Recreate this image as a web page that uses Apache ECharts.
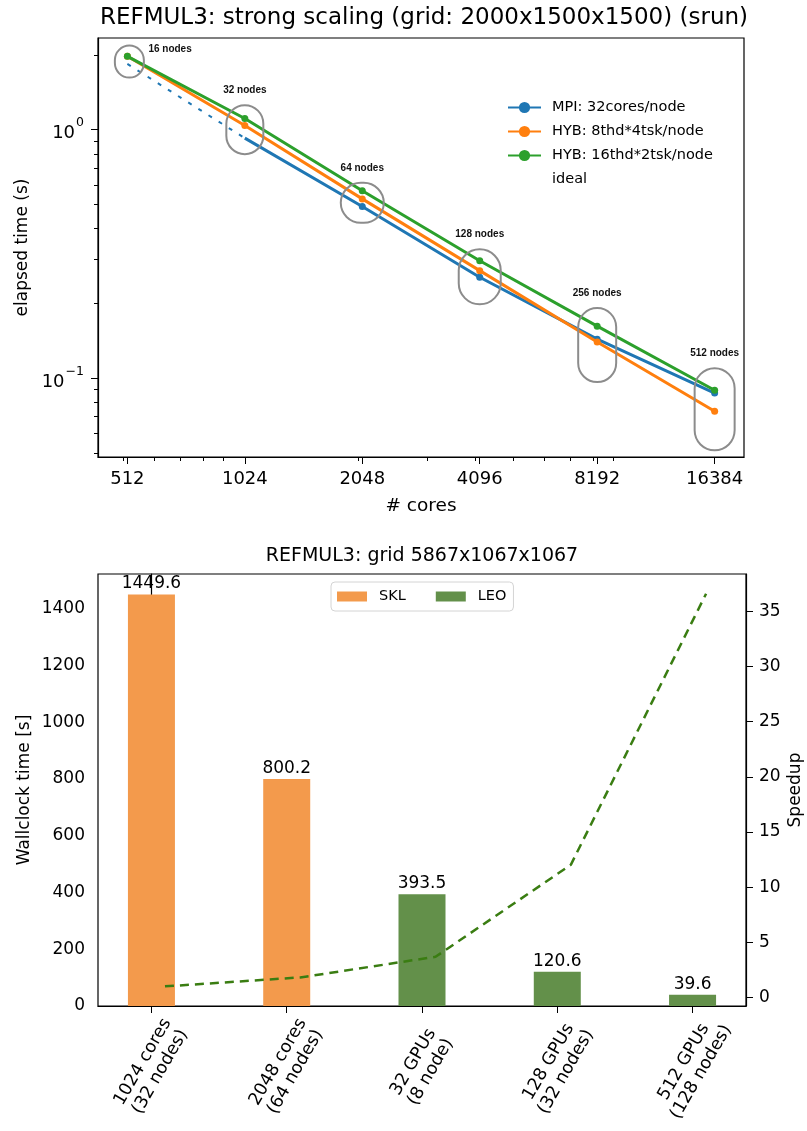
<!DOCTYPE html>
<html>
<head>
<meta charset="utf-8">
<script src="https://cdn.jsdelivr.net/npm/echarts@6/dist/echarts.min.js"></script>
<style>
  html, body { margin: 0; padding: 0; background: #fff; }
  #container { width: 807px; height: 1131px; }
</style>
</head>
<body>
<div id="container"></div>
<script>
// ---- strong scaling (top) ----
var cores = [512, 1024, 2048, 4096, 8192, 16384];
var mpiTime = [null, 0.925, 0.491, 0.255, 0.1436, 0.0872];
var hyb8Time = [1.975, 1.04, 0.527, 0.271, 0.140, 0.0736];
var hyb16Time = [1.975, 1.11, 0.568, 0.297, 0.162, 0.0895];
var idealTime = [1.84, 0.925, null, null, null, null];
var nodeLabels = ["16 nodes", "32 nodes", "64 nodes", "128 nodes", "256 nodes", "512 nodes"];
var ringCenter = [1.88, 1.0, 0.508, 0.256, 0.136, 0.075];
var xMinorTicks = [500, 600, 700, 800, 900, 2000, 3000, 4000, 5000, 6000, 7000, 8000, 9000];
var yMajorTicks = [0.1, 1];
var yTickExp = ["\u22121", "0"];
var yMinorTicks = [0.05, 0.06, 0.07, 0.08, 0.09, 0.2, 0.3, 0.4, 0.5, 0.6, 0.7, 0.8, 0.9, 2];

// ---- grid 5867x1067x1067 (bottom) ----
var configs = ["1024 cores\n(32 nodes)", "2048 cores\n(64 nodes)", "32 GPUs\n(8 node)", "128 GPUs\n(32 nodes)", "512 GPUs\n(128 nodes)"];
var sklTime = [1449.6, 800.2, null, null, null];
var leoTime = [null, null, 393.5, 120.6, 39.6];
var speedup = [1.0, 1.81, 3.68, 12.02, 36.6];
var wallTicks = [0, 200, 400, 600, 800, 1000, 1200, 1400];
var speedTicks = [0, 5, 10, 15, 20, 25, 30, 35];

// ring sizes in px (style only)
var ringSize = [[29, 32], [37, 49], [43, 40], [42, 55], [38, 74], [40, 82]];

var FONT = "DejaVu Sans";
var chart = echarts.init(document.getElementById("container"));

function pairs(xs, ys) {
  var out = [];
  ys.forEach(function(v, i) { out.push([xs[i], v == null ? null : v]); });
  return out;
}
function barData(ys) {
  var out = [];
  ys.forEach(function(v, i) { if (v != null) out.push([i, v]); });
  return out;
}

var mpiData = pairs(cores, mpiTime).map(function(d, i) {
  return i === 1 ? { value: d, symbolSize: 0 } : d;
});

var option = {
  animation: false,
  backgroundColor: "#fff",
  textStyle: { fontFamily: FONT },
  graphic: [
    { type: "text", x: 424, y: 18, style: { text: "REFMUL3: strong scaling (grid: 2000x1500x1500) (srun)", font: "23px " + FONT, fill: "#000", align: "center", verticalAlign: "middle", textAlign: "center", textVerticalAlign: "middle" } },
    { type: "text", x: 422, y: 556, style: { text: "REFMUL3: grid 5867x1067x1067", font: "19px " + FONT, fill: "#000", align: "center", verticalAlign: "middle", textAlign: "center", textVerticalAlign: "middle" } }
  ],
  legend: [
    {
      orient: "vertical", left: 507, top: 100, padding: 0,
      itemWidth: 33, itemHeight: 14, itemGap: 9,
      textStyle: { fontFamily: FONT, fontSize: 14.5, color: "#000", padding: [0, 0, 0, 6] },
      data: ["MPI: 32cores/node", "HYB: 8thd*4tsk/node", "HYB: 16thd*2tsk/node", { name: "ideal", icon: "none" }]
    },
    {
      orient: "horizontal", left: 331, top: 582, padding: [7, 7, 7, 6],
      borderColor: "#d4d4d4", borderWidth: 1, borderRadius: 4,
      itemWidth: 30, itemHeight: 10, itemGap: 30, icon: "rect",
      textStyle: { fontFamily: FONT, fontSize: 14.5, color: "#000", padding: [0, 0, 0, 7] },
      data: ["SKL", "LEO"]
    }
  ],
  grid: [
    { left: 98, top: 38, right: 63, bottom: 674, outerBoundsMode: "none", containLabel: false, show: true, borderColor: "#000", borderWidth: 1.2, backgroundColor: "transparent" },
    { left: 98, top: 574, right: 61, bottom: 125, outerBoundsMode: "none", containLabel: false, show: true, borderColor: "#000", borderWidth: 1.2, backgroundColor: "transparent" }
  ],
  xAxis: [
    {
      gridIndex: 0, type: "log", logBase: 2, min: 430.5, max: 19484, position: "bottom",
      name: "# cores", nameLocation: "middle", nameGap: 40, nameMoveOverlap: false,
      nameTextStyle: { fontFamily: FONT, fontSize: 18.5, color: "#000" },
      axisLine: { lineStyle: { color: "#000", width: 1.2 } },
      axisTick: { length: 7, lineStyle: { color: "#000" }, customValues: cores },
      axisLabel: { fontFamily: FONT, fontSize: 18, color: "#000", margin: 13, customValues: cores, formatter: function(v) { return String(Math.round(v)); } },
      splitLine: { show: false }, minorTick: { show: false }
    },
    {
      gridIndex: 0, type: "log", logBase: 2, min: 430.5, max: 19484, position: "bottom",
      axisLine: { show: false },
      axisTick: { show: true, length: 4, lineStyle: { color: "#000" }, customValues: xMinorTicks },
      axisLabel: { show: false },
      splitLine: { show: false }
    },
    {
      gridIndex: 1, type: "value", min: -0.395, max: 4.395,
      axisLine: { lineStyle: { color: "#000", width: 1.2 } },
      axisTick: { length: 7, lineStyle: { color: "#000" }, customValues: [0, 1, 2, 3, 4] },
      axisLabel: {
        fontFamily: FONT, fontSize: 17.5, color: "#000", rotate: 60, margin: 61,
        align: "center", verticalAlign: "middle", lineHeight: 20,
        customValues: [0, 1, 2, 3, 4],
        formatter: function(v) { return configs[Math.round(v)]; }
      },
      splitLine: { show: false }
    }
  ],
  yAxis: [
    {
      gridIndex: 0, type: "log", logBase: 10, min: 0.0482, max: 2.34, position: "left",
      name: "elapsed time (s)", nameLocation: "middle", nameGap: 67, nameMoveOverlap: false,
      nameTextStyle: { fontFamily: FONT, fontSize: 17, color: "#000" },
      axisLine: { lineStyle: { color: "#000", width: 1.2 } },
      axisTick: { length: 7, lineStyle: { color: "#000" }, customValues: yMajorTicks },
      axisLabel: {
        fontFamily: FONT, fontSize: 18, color: "#000", margin: 14, customValues: yMajorTicks,
        formatter: function(v) { return "{b|10}{s|" + (v > 0.5 ? yTickExp[1] : yTickExp[0]) + "}"; },
        rich: {
          b: { fontFamily: FONT, fontSize: 18, color: "#000", lineHeight: 26, verticalAlign: "bottom" },
          s: { fontFamily: FONT, fontSize: 12.5, color: "#000", lineHeight: 26, verticalAlign: "top", padding: [0, 0, 0, 1] }
        }
      },
      splitLine: { show: false }
    },
    {
      gridIndex: 0, type: "log", logBase: 10, min: 0.0482, max: 2.34, position: "left",
      axisLine: { show: false },
      axisTick: { show: true, length: 4, lineStyle: { color: "#000" }, customValues: yMinorTicks },
      axisLabel: { show: false },
      splitLine: { show: false }
    },
    {
      gridIndex: 1, type: "value", min: 0, max: 1522.1, position: "left",
      name: "Wallclock time [s]", nameLocation: "middle", nameGap: 65, nameMoveOverlap: false,
      nameTextStyle: { fontFamily: FONT, fontSize: 17, color: "#000" },
      axisLine: { show: true, lineStyle: { color: "#000", width: 1.2 } },
      axisTick: { show: true, length: 7, lineStyle: { color: "#000" }, customValues: wallTicks },
      axisLabel: { fontFamily: FONT, fontSize: 17, color: "#000", margin: 13, customValues: wallTicks,
        formatter: function(v) { return String(v); } },
      splitLine: { show: false }
    },
    {
      gridIndex: 1, type: "value", position: "right", min: -0.78, max: 38.39,
      name: "Speedup", nameLocation: "middle", nameGap: 41, nameRotate: 90, nameMoveOverlap: false,
      nameTextStyle: { fontFamily: FONT, fontSize: 17, color: "#000" },
      axisLine: { show: true, lineStyle: { color: "#000", width: 1.2 } },
      axisTick: { show: true, length: 7, lineStyle: { color: "#000" }, customValues: speedTicks },
      axisLabel: { fontFamily: FONT, fontSize: 17, color: "#000", margin: 13, customValues: speedTicks,
        formatter: function(v) { return String(v); } },
      splitLine: { show: false }
    }
  ],
  series: [
    {
      name: "ideal", type: "line", xAxisIndex: 0, yAxisIndex: 0,
      data: pairs(cores, idealTime), showSymbol: false, symbol: "none",
      lineStyle: { color: "#1f77b4", width: 2, type: [4, 8] }, itemStyle: { color: "#1f77b4" }, z: 2
    },
    {
      name: "MPI: 32cores/node", type: "line", xAxisIndex: 0, yAxisIndex: 0,
      data: mpiData, symbol: "circle", symbolSize: 7,
      lineStyle: { color: "#1f77b4", width: 3 }, itemStyle: { color: "#1f77b4" }, z: 3
    },
    {
      name: "HYB: 8thd*4tsk/node", type: "line", xAxisIndex: 0, yAxisIndex: 0,
      data: pairs(cores, hyb8Time), symbol: "circle", symbolSize: 7,
      lineStyle: { color: "#ff7f0e", width: 3 }, itemStyle: { color: "#ff7f0e" }, z: 4
    },
    {
      name: "HYB: 16thd*2tsk/node", type: "line", xAxisIndex: 0, yAxisIndex: 0,
      data: pairs(cores, hyb16Time), symbol: "circle", symbolSize: 7,
      lineStyle: { color: "#2ca02c", width: 3 }, itemStyle: { color: "#2ca02c" }, z: 5
    },
    {
      name: "nodes", type: "custom", xAxisIndex: 0, yAxisIndex: 0, clip: false, z: 6,
      data: pairs(cores, ringCenter),
      renderItem: function(params, api) {
        var i = params.dataIndex;
        var p = api.coord([api.value(0), api.value(1)]);
        var w = ringSize[i][0], h = ringSize[i][1];
        var cx = p[0] + (i === 0 ? 2 : 0);
        var tx = i === 0 ? cx + 19 : cx;
        var ty = i === 0 ? p[1] - 12 : p[1] - h / 2 - 15;
        return {
          type: "group",
          children: [
            { type: "rect", shape: { x: cx - w / 2, y: p[1] - h / 2, width: w, height: h, r: Math.min(w, h) / 2 },
              style: { fill: "none", stroke: "#8c8c8c", lineWidth: 2 } },
            { type: "text", style: { text: nodeLabels[i], x: tx, y: ty, fill: "#111",
              font: "bold 10px 'Liberation Sans'", align: i === 0 ? "left" : "center", verticalAlign: "middle",
              textAlign: i === 0 ? "left" : "center", textVerticalAlign: "middle" } }
          ]
        };
      }
    },
    {
      name: "SKL", type: "bar", xAxisIndex: 2, yAxisIndex: 2,
      data: barData(sklTime), barWidth: 47, barGap: "-100%",
      itemStyle: { color: "#f39a4c" },
      label: { show: true, position: "top", distance: 2, fontFamily: FONT, fontSize: 17, color: "#000",
        formatter: function(p) { return p.value[1].toFixed(1); } }
    },
    {
      name: "LEO", type: "bar", xAxisIndex: 2, yAxisIndex: 2,
      data: barData(leoTime), barWidth: 47, barGap: "-100%",
      itemStyle: { color: "#63904a" },
      label: { show: true, position: "top", distance: 2, fontFamily: FONT, fontSize: 17, color: "#000",
        formatter: function(p) { return p.value[1].toFixed(1); } }
    },
    {
      name: "speedup", type: "line", xAxisIndex: 2, yAxisIndex: 3,
      data: speedup.map(function(v, i) { return [i + 0.1, v]; }),
      symbol: "none", lineStyle: { color: "#3a7d12", width: 2.5, type: [9, 6] }, z: 5
    }
  ]
};

chart.setOption(option);
</script>
</body>
</html>
